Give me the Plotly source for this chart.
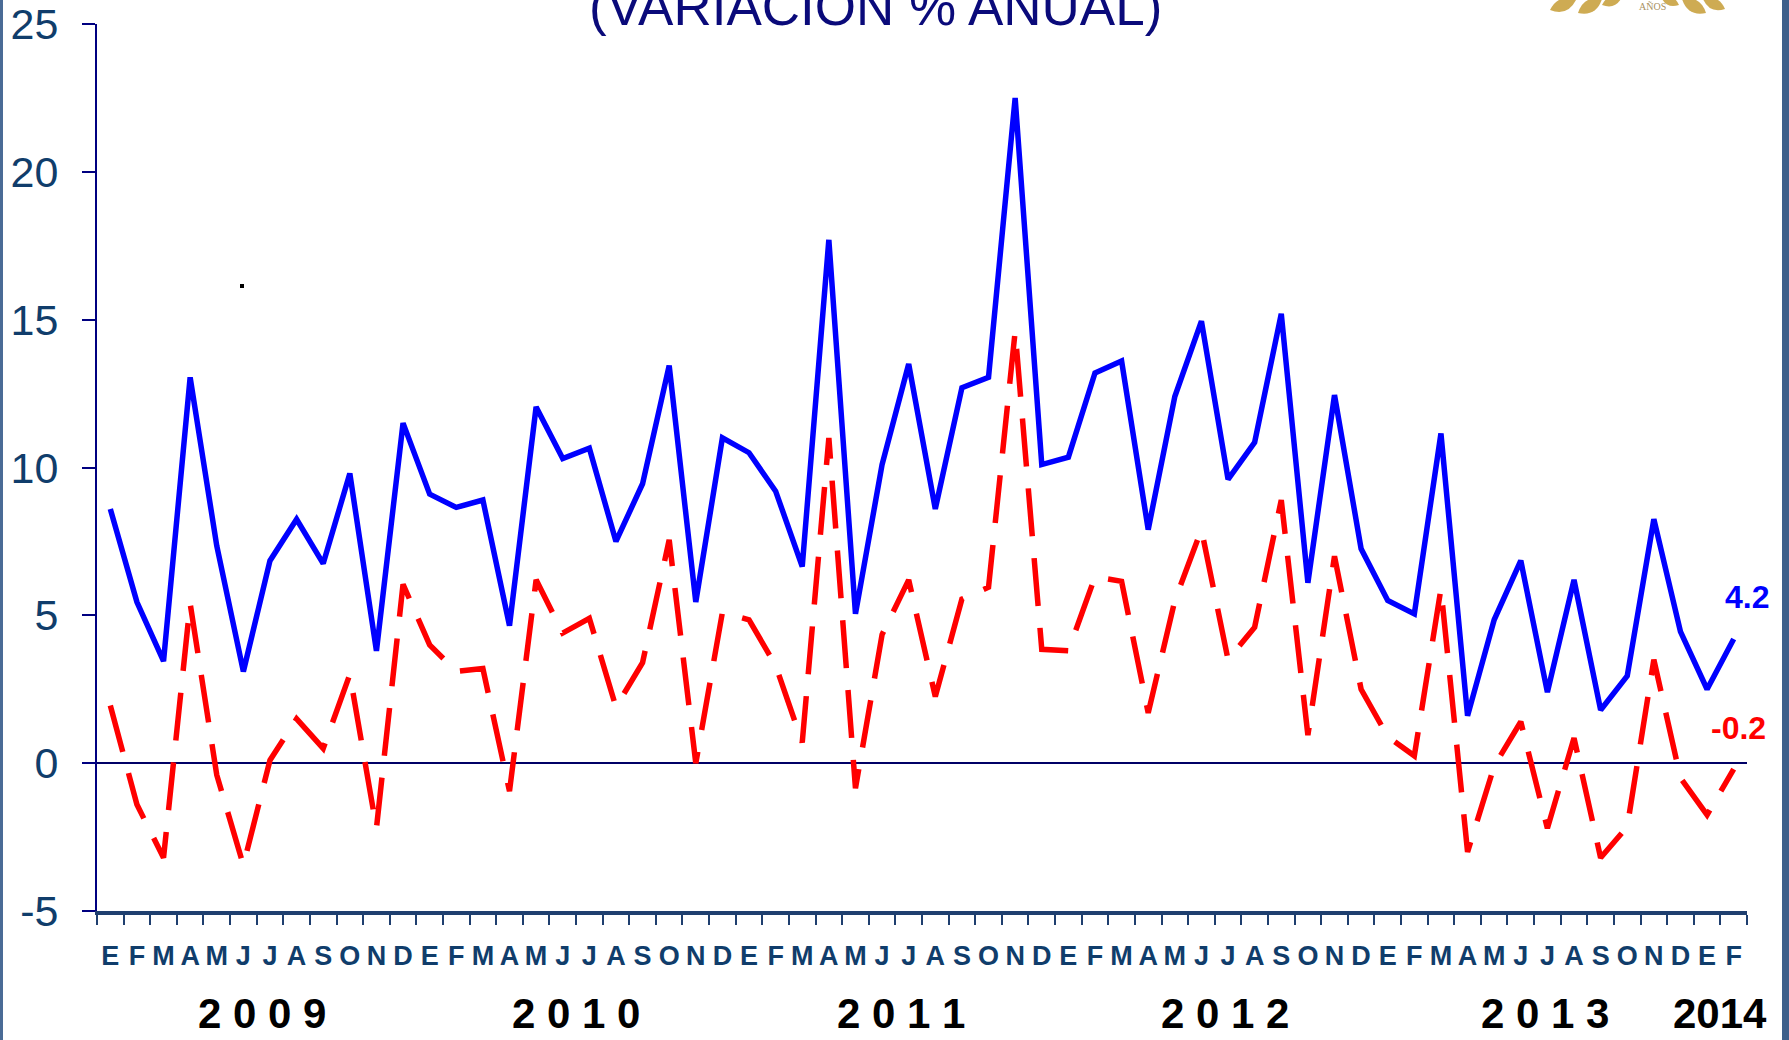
import plotly.graph_objects as go

# ---------------- data ----------------
months = ["E", "F", "M", "A", "M", "J", "J", "A", "S", "O", "N", "D"] * 5 + ["E", "F"]
years = ["2009", "2010", "2011", "2012", "2013", "2014"]

blue_values = [
    8.6, 5.45, 3.45, 13.05, 7.35, 3.1, 6.85, 8.25, 6.75, 9.8, 3.8, 11.5,      # 2009
    9.1, 8.65, 8.9, 4.65, 12.05, 10.3, 10.65, 7.5, 9.45, 13.45, 5.45, 11.0,   # 2010
    10.5, 9.2, 6.65, 17.7, 5.05, 10.1, 13.5, 8.6, 12.7, 13.05, 22.5, 10.1,    # 2011
    10.35, 13.2, 13.6, 7.9, 12.4, 14.95, 9.6, 10.85, 15.2, 6.1, 12.45, 7.25,  # 2012
    5.5, 5.05, 11.15, 1.6, 4.85, 6.85, 2.4, 6.2, 1.8, 2.95, 8.25, 4.45,       # 2013
    2.5, 4.2,                                                                # 2014
]
red_values = [
    1.95, -1.4, -3.2, 5.4, -0.4, -3.45, 0.1, 1.5, 0.5, 3.0, -2.2, 6.05,       # 2009
    4.0, 3.1, 3.2, -0.95, 6.2, 4.4, 4.9, 1.9, 3.4, 7.55, 0.0, 5.1,            # 2010
    4.85, 3.3, 0.7, 11.0, -0.85, 4.35, 6.2, 2.25, 5.55, 5.95, 14.6, 3.85,     # 2011
    3.8, 6.3, 6.15, 1.7, 5.5, 7.9, 3.5, 4.6, 8.9, 0.95, 7.0, 2.5,             # 2012
    0.9, 0.25, 5.9, -3.0, -0.1, 1.4, -2.2, 0.85, -3.2, -2.15, 3.5, -0.5,      # 2013
    -1.75, -0.2,                                                             # 2014
]
y_ticks = [-5, 0, 5, 10, 15, 20, 25]
y_tick_labels = ["-5", "0", "5", "10", "15", "20", "25"]
title_text = "(VARIACIÓN % ANUAL)"

# ---------------- layout constants ----------------
W, H = 1789, 1040
ML, MR, MT, MB = 97, 42, 24, 129
PW, PH = W - ML - MR, H - MT - MB

def px_x(px):
    return (px - ML) / PW

def px_y(py):
    return (H - MB - py) / PH

FONT = "Liberation Sans, Arial, sans-serif"
NAVY = "#000080"
LABEL = "#103D6B"

x = list(range(len(months)))

fig = go.Figure()
fig.add_trace(go.Scatter(
    x=x, y=red_values, mode="lines",
    line=dict(color="#FF0000", width=5.5, dash="48px,22px"),
    hoverinfo="skip", showlegend=False,
))
fig.add_trace(go.Scatter(
    x=x, y=blue_values, mode="lines",
    line=dict(color="#0000FF", width=5.5),
    hoverinfo="skip", showlegend=False,
))

annotations = []
# year labels (positions in category units)
year_pos = [5.7, 17.5, 29.7, 41.9, 53.9, 60.5]
for yr, xp in zip(years, year_pos):
    txt = yr if yr == "2014" else " ".join(yr)
    annotations.append(dict(
        x=xp, y=px_y(1013), xref="x", yref="paper", text=txt, showarrow=False,
        font=dict(family=FONT, size=42, color="#000000", weight="bold"),
        xanchor="center", yanchor="middle",
    ))

# end labels
last = len(x) - 1
annotations.append(dict(
    x=px_x(1747), y=px_y(597), xref="paper", yref="paper",
    text=f"{blue_values[last]:.1f}", showarrow=False,
    font=dict(family=FONT, size=32, color="#0000FF", weight="bold"),
    xanchor="center", yanchor="middle",
))
annotations.append(dict(
    x=px_x(1738), y=px_y(728), xref="paper", yref="paper",
    text=f"{red_values[last]:.1f}", showarrow=False,
    font=dict(family=FONT, size=32, color="#FF0000", weight="bold"),
    xanchor="center", yanchor="middle",
))
# title (cut at top of slide)
annotations.append(dict(
    x=px_x(875), y=px_y(38), xref="paper", yref="paper",
    text=title_text, showarrow=False,
    font=dict(family=FONT, size=53, color="#0A0A7A"),
    xanchor="center", yanchor="bottom",
))
# logo text
annotations.append(dict(
    x=px_x(1652), y=px_y(6), xref="paper", yref="paper",
    text="AÑOS", showarrow=False,
    font=dict(family="Liberation Serif, serif", size=10, color="#A89060"),
    xanchor="center", yanchor="middle",
))

shapes = []
# slide borders
shapes.append(dict(type="rect", xref="paper", yref="paper",
                   x0=px_x(0), x1=px_x(3), y0=px_y(H), y1=px_y(0),
                   fillcolor="#4A6B96", line=dict(width=0), layer="above"))
shapes.append(dict(type="rect", xref="paper", yref="paper",
                   x0=px_x(1782), x1=px_x(W), y0=px_y(H), y1=px_y(0),
                   fillcolor="#3E5F8A", line=dict(width=0), layer="above"))
# small dot artifact
shapes.append(dict(type="rect", xref="paper", yref="paper",
                   x0=px_x(240), x1=px_x(244), y0=px_y(288), y1=px_y(284),
                   fillcolor="#000000", line=dict(width=0)))

# logo leaves (gold)
def leaf(cx, cy, dx, dy, bulge):
    p0 = (px_x(cx - dx), px_y(cy - dy))
    p1 = (px_x(cx + dx), px_y(cy + dy))
    c1 = (px_x(cx - bulge * dy), px_y(cy + bulge * dx))
    c2 = (px_x(cx + bulge * dy), px_y(cy - bulge * dx))
    return (f"M {p0[0]},{p0[1]} Q {c1[0]},{c1[1]} {p1[0]},{p1[1]} "
            f"Q {c2[0]},{c2[1]} {p0[0]},{p0[1]} Z")

leaves = [(1563, 5, 13, -5, 0.9), (1590, 6, 12, -7, 0.9), (1612, 1, 10, -4, 0.9),
          (1694, 6, -12, -7, 0.9), (1714, 4, -11, -5, 0.9), (1670, 1, -9, -4, 0.9)]
for (cx, cy, dx, dy, b) in leaves:
    shapes.append(dict(type="path", xref="paper", yref="paper", path=leaf(cx, cy, dx, dy, b),
                       fillcolor="#C9A240", line=dict(width=0), opacity=0.9))

fig.update_layout(
    width=W, height=H, autosize=False,
    margin=dict(l=ML, r=MR, t=MT, b=MB, pad=0, autoexpand=False),
    paper_bgcolor="white", plot_bgcolor="white",
    showlegend=False,
    annotations=annotations,
    shapes=shapes,
    xaxis=dict(
        range=[-0.5, len(x) - 0.5], automargin=False,
        tickmode="array", tickvals=x, ticktext=months,
        ticks="", showgrid=False, zeroline=False,
        showline=True, linecolor="#1F3F6F", linewidth=4,
        tickfont=dict(family=FONT, size=27, color=LABEL, weight="bold"),
        ticklabelstandoff=18,
        minor=dict(tickmode="linear", tick0=-0.5, dtick=1, ticks="outside",
                   ticklen=10, tickwidth=2, tickcolor="#1F3F6F", showgrid=False),
        fixedrange=True,
    ),
    yaxis=dict(
        range=[-5, 25], tickmode="array", tickvals=y_ticks, ticktext=y_tick_labels,
        automargin=False,
        ticks="outside", ticklen=13, tickwidth=2, tickcolor=NAVY,
        showline=True, linecolor=NAVY, linewidth=2,
        showgrid=False,
        zeroline=True, zerolinecolor="#000066", zerolinewidth=2,
        tickfont=dict(family=FONT, size=43, color=LABEL),
        ticklabelstandoff=15,
        fixedrange=True,
    ),
)

fig.write_html("out.html", include_plotlyjs=True,
               config={"displayModeBar": False, "staticPlot": True},
               post_script="document.body.style.margin='0';document.body.style.overflow='hidden';")
